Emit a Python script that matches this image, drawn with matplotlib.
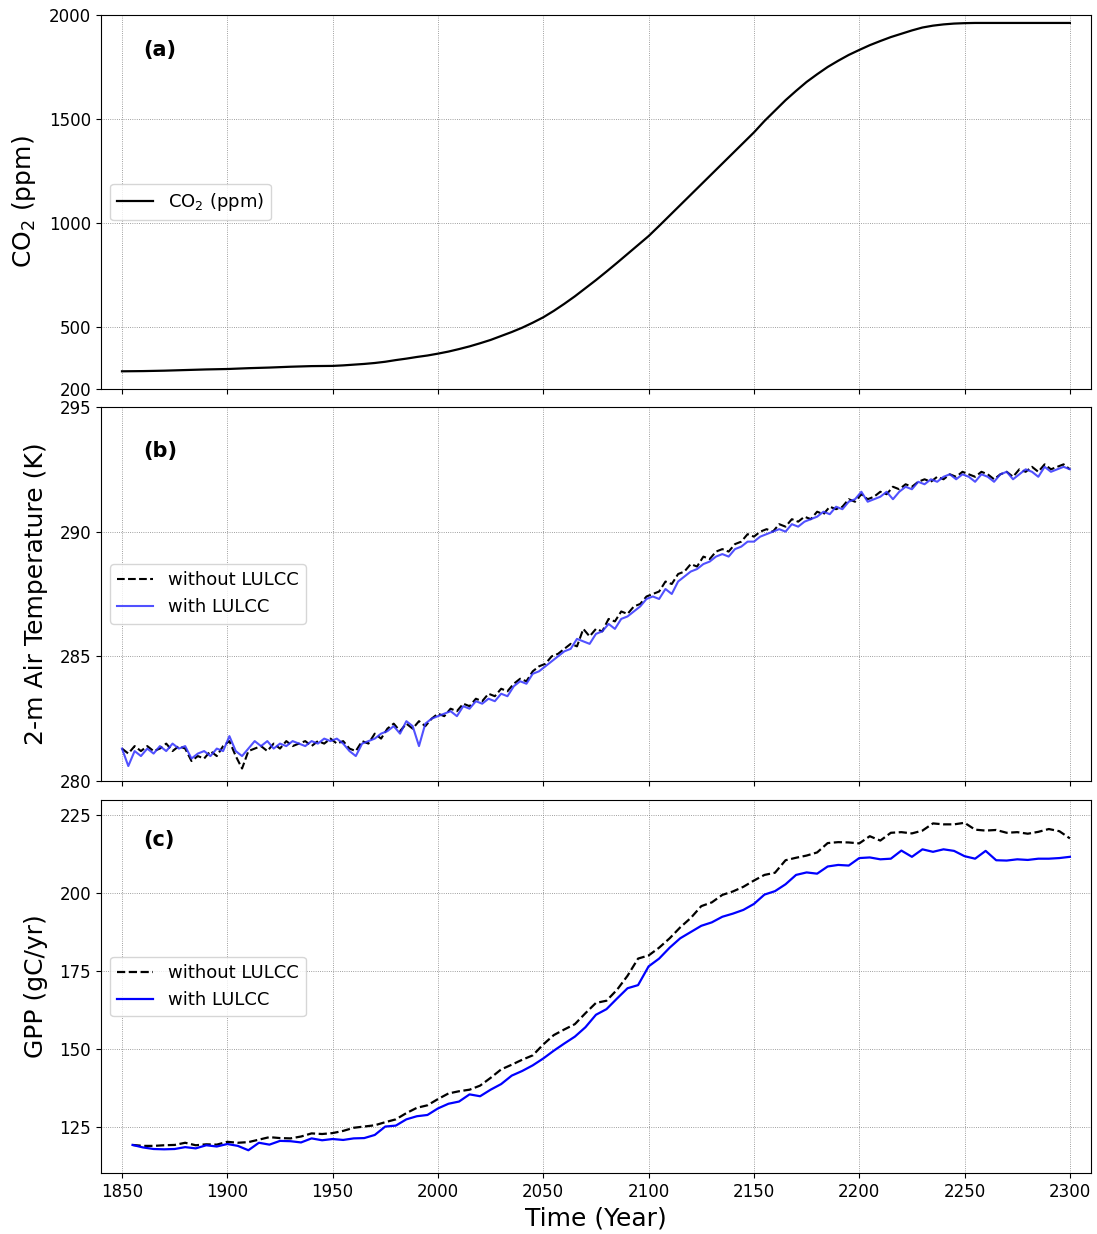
import numpy as np
import matplotlib
matplotlib.use('Agg')
import matplotlib.pyplot as plt

# CO2 concentration (ppm), every 5 years 1850-2300
co2_years = np.arange(1850, 2301, 5)
co2 = [285, 285.5, 286, 287, 288, 289.5, 291, 292.5, 294, 295,
       296, 298, 300, 301.5, 303, 305, 307, 308.5, 310, 310.5,
       311, 313.5, 317, 320.5, 325, 331, 339, 346, 354, 361,
       370, 380, 392, 405, 420, 436, 455, 474, 495, 519,
       545, 576, 610, 646, 685, 724, 765, 807, 850, 893,
       936, 985, 1035, 1085, 1135, 1185, 1235, 1285, 1335, 1385,
       1435, 1490, 1540, 1590, 1635, 1678, 1715, 1750, 1780, 1808,
       1832, 1855, 1875, 1894, 1910, 1926, 1940, 1949, 1955, 1959,
       1961, 1962, 1962, 1962, 1962, 1962, 1962, 1962, 1962, 1962,
       1962]

# 2-m air temperature (K), every 3 years 1850-2300
tas_years = np.arange(1850, 2301, 3)
tas_without = [281.3, 281.1, 281.4, 281.2, 281.4, 281.2, 281.3, 281.5, 281.2, 281.4,
               281.3, 280.8, 281.0, 280.9, 281.2, 281.0, 281.4, 281.6, 281.0, 280.5,
               281.2, 281.3, 281.4, 281.2, 281.5, 281.3, 281.6, 281.4, 281.5, 281.6,
               281.4, 281.6, 281.5, 281.7, 281.5, 281.6, 281.3, 281.2, 281.6, 281.5,
               281.9, 281.7, 282.1, 282.3, 282.0, 282.3, 282.1, 282.4, 282.2, 282.5,
               282.7, 282.6, 282.9, 282.8, 283.1, 283.0, 283.3, 283.2, 283.5, 283.4,
               283.7, 283.6, 283.9, 284.1, 284.0, 284.4, 284.6, 284.7, 285.0, 285.1,
               285.3, 285.5, 285.4, 286.1, 285.8, 286.1, 286.0, 286.5, 286.4, 286.8,
               286.7, 287.0, 287.1, 287.4, 287.5, 287.6, 288.0, 287.9, 288.3, 288.4,
               288.7, 288.6, 289.0, 288.9, 289.2, 289.3, 289.2, 289.5, 289.6, 289.9,
               289.8, 290.0, 290.1, 290.0, 290.3, 290.2, 290.5, 290.4, 290.6, 290.5,
               290.8, 290.7, 291.0, 290.9, 291.0, 291.3, 291.2, 291.5, 291.3, 291.4,
               291.6, 291.5, 291.8, 291.7, 291.9, 291.8, 292.0, 292.1, 292.0, 292.2,
               292.1, 292.3, 292.2, 292.4, 292.3, 292.2, 292.4, 292.3, 292.1, 292.3,
               292.4, 292.2, 292.5, 292.4, 292.6, 292.4, 292.7, 292.5, 292.6, 292.7,
               292.5]
tas_with = [281.3, 280.6, 281.2, 281.0, 281.3, 281.1, 281.4, 281.2, 281.5, 281.3,
            281.4, 280.9, 281.1, 281.2, 281.0, 281.3, 281.2, 281.8, 281.2, 281.0,
            281.3, 281.6, 281.4, 281.6, 281.3, 281.5, 281.4, 281.6, 281.5, 281.4,
            281.6, 281.5, 281.7, 281.6, 281.7, 281.5, 281.2, 281.0, 281.5, 281.6,
            281.7, 281.9, 282.0, 282.2, 281.9, 282.4, 282.2, 281.4, 282.3, 282.5,
            282.6, 282.7, 282.8, 282.6, 283.0, 282.9, 283.2, 283.1, 283.3, 283.2,
            283.5, 283.4, 283.8, 284.0, 283.9, 284.3, 284.4, 284.6, 284.8, 285.0,
            285.2, 285.3, 285.7, 285.6, 285.5, 285.9, 286.0, 286.3, 286.1, 286.5,
            286.6, 286.8, 287.0, 287.3, 287.4, 287.3, 287.7, 287.5, 288.0, 288.2,
            288.4, 288.5, 288.7, 288.8, 289.0, 289.1, 289.0, 289.3, 289.4, 289.6,
            289.6, 289.8, 289.9, 290.0, 290.1, 290.0, 290.3, 290.2, 290.4, 290.5,
            290.6, 290.8, 290.7, 291.0, 290.9, 291.2, 291.3, 291.6, 291.2, 291.3,
            291.4, 291.6, 291.3, 291.6, 291.8, 291.7, 292.0, 291.9, 292.1, 292.0,
            292.2, 292.3, 292.1, 292.3, 292.2, 292.0, 292.3, 292.2, 292.0, 292.3,
            292.4, 292.1, 292.3, 292.5, 292.4, 292.2, 292.6, 292.4, 292.5, 292.6,
            292.5]

# GPP (gC/yr), every 5 years 1855-2300
gpp_years = np.arange(1855, 2301, 5)
gpp_without = [119.3, 119.0, 119.0, 119.2, 119.3, 120.0, 119.2, 119.5, 119.4, 120.3,
               120.0, 120.2, 121.0, 121.8, 121.5, 121.4, 122.0, 123.0, 122.8, 123.1,
               123.8, 124.8, 125.2, 125.6, 126.6, 127.5, 129.5, 131.2, 132.0, 134.0,
               135.8, 136.5, 137.0, 138.3, 140.8, 143.5, 145.0, 146.6, 148.0, 151.5,
               154.5, 156.3, 158.0, 161.5, 164.8, 165.5, 169.0, 173.5, 179.0, 180.0,
               182.5, 185.5, 189.0, 192.0, 195.8, 197.0, 199.4, 200.5, 202.0, 204.0,
               205.8, 206.5, 210.5, 211.3, 212.0, 213.0, 216.0, 216.3, 216.2, 215.9,
               218.2, 216.8, 219.3, 219.5, 219.1, 220.0, 222.3, 222.0, 222.0, 222.5,
               220.3, 220.0, 220.2, 219.3, 219.5, 219.0, 219.6, 220.5, 219.8, 217.5]
gpp_with = [119.3, 118.5, 118.0, 117.9, 118.0, 118.6, 118.2, 119.2, 118.8, 119.6,
            119.0, 117.6, 120.0, 119.4, 120.6, 120.5, 120.1, 121.4, 120.8, 121.2,
            120.9, 121.4, 121.5, 122.5, 125.2, 125.5, 127.5, 128.5, 128.9, 131.0,
            132.5, 133.2, 135.5, 134.9, 137.0, 138.8, 141.5, 143.0, 144.8, 147.0,
            149.5, 151.8, 154.0, 157.0, 161.0, 162.8, 166.2, 169.5, 170.5, 176.5,
            179.0, 182.5, 185.5, 187.5, 189.5, 190.6, 192.4, 193.4, 194.6, 196.5,
            199.5, 200.6, 202.8, 205.8, 206.6, 206.2, 208.5, 209.0, 208.8, 211.2,
            211.4, 210.8, 211.0, 213.6, 211.6, 214.0, 213.2, 214.0, 213.5, 211.8,
            211.0, 213.5, 210.5, 210.4, 210.8, 210.6, 211.0, 211.0, 211.2, 211.6]

xticks = [1850, 1900, 1950, 2000, 2050, 2100, 2150, 2200, 2250, 2300]

fig = plt.figure(figsize=(10.97, 12.34), dpi=100)
ax1 = fig.add_axes([0.092, 0.6848, 0.9025, 0.3030])
ax2 = fig.add_axes([0.092, 0.3671, 0.9025, 0.3031], sharex=ax1)
ax3 = fig.add_axes([0.092, 0.0494, 0.9025, 0.3023], sharex=ax1)

# (a) CO2
ax1.plot(co2_years, co2, color='k', lw=1.6, label='CO$_2$ (ppm)')
ax1.set_ylim(200, 2000)
ax1.set_yticks([200, 500, 1000, 1500, 2000])
ax1.set_ylabel('CO$_2$ (ppm)', fontsize=18, labelpad=8)
ax1.legend(loc='center left', fontsize=13)
ax1.text(0.043, 0.906, '(a)', transform=ax1.transAxes, fontsize=15,
         fontweight='bold', va='center')

# (b) temperature
ax2.plot(tas_years, tas_without, color='k', ls='--', lw=1.5, label='without LULCC')
ax2.plot(tas_years, tas_with, color='#3333ff', lw=1.5, alpha=0.85, label='with LULCC')
ax2.set_ylim(280, 295)
ax2.set_yticks([280, 285, 290, 295])
ax2.set_ylabel('2-m Air Temperature (K)', fontsize=18, labelpad=8)
ax2.legend(loc='center left', fontsize=13)
ax2.text(0.043, 0.882, '(b)', transform=ax2.transAxes, fontsize=15,
         fontweight='bold', va='center')

# (c) GPP
ax3.plot(gpp_years, gpp_without, color='k', ls='--', lw=1.6, label='without LULCC')
ax3.plot(gpp_years, gpp_with, color='b', lw=1.6, label='with LULCC')
ax3.set_ylim(110.3, 229.8)
ax3.set_yticks([125, 150, 175, 200, 225])
ax3.set_ylabel('GPP (gC/yr)', fontsize=18, labelpad=8)
ax3.set_xlabel('Time (Year)', fontsize=18)
ax3.legend(loc='center left', fontsize=13)
ax3.text(0.043, 0.893, '(c)', transform=ax3.transAxes, fontsize=15,
         fontweight='bold', va='center')

for ax in (ax1, ax2, ax3):
    ax.set_xlim(1840, 2310)
    ax.set_xticks(xticks)
    ax.tick_params(labelsize=12)
    ax.grid(True, ls=':', color='gray', lw=0.6)
for ax in (ax1, ax2):
    ax.tick_params(labelbottom=False)

fig.savefig('out.png', dpi=100)
